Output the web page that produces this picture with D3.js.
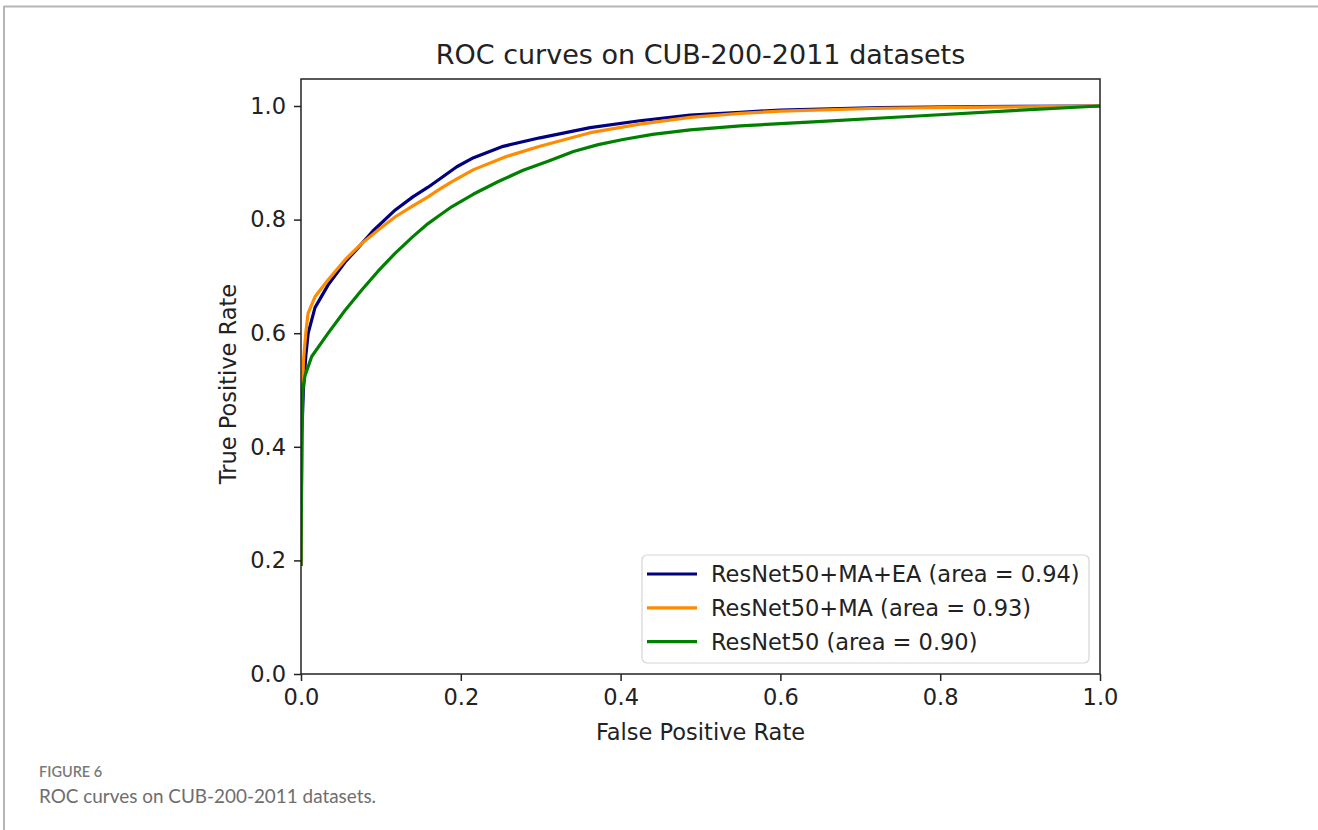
<!DOCTYPE html>
<html lang="en">
<head>
    <meta charset="UTF-8">
    <title>ROC curves</title>
    <script src="https://d3js.org/d3.v7.min.js"></script>
    <style>
        body { margin: 0; background: #fff; }
        svg text { font-family: "DejaVu Sans", sans-serif; fill: #222; }
    </style>
</head>
<body>
<script>
    // ROC points
    var fprMaEa = [0, 0.001, 0.003, 0.006, 0.009, 0.0175, 0.034, 0.055, 0.068, 0.09, 0.118, 0.14, 0.159, 0.174, 0.195, 0.216, 0.253, 0.299, 0.362, 0.424, 0.487, 0.55, 0.6, 0.725, 0.85, 1.0];
    var tprMaEa = [0.19, 0.42, 0.5, 0.56, 0.6, 0.645, 0.685, 0.725, 0.745, 0.78, 0.817, 0.84, 0.857, 0.872, 0.893, 0.909, 0.929, 0.944, 0.962, 0.974, 0.984, 0.989, 0.993, 0.997, 0.999, 1.0];

    var fprMa = [0, 0.001, 0.003, 0.006, 0.0088, 0.0175, 0.034, 0.055, 0.076, 0.097, 0.118, 0.14, 0.159, 0.174, 0.189, 0.216, 0.257, 0.299, 0.362, 0.424, 0.487, 0.55, 0.6, 0.725, 0.85, 1.0];
    var tprMa = [0.19, 0.45, 0.55, 0.6, 0.635, 0.664, 0.694, 0.729, 0.758, 0.782, 0.805, 0.824, 0.84, 0.854, 0.867, 0.888, 0.911, 0.929, 0.953, 0.968, 0.98, 0.987, 0.991, 0.996, 0.998, 1.0];

    var fprBase = [0, 0.001, 0.002, 0.005, 0.0134, 0.034, 0.055, 0.076, 0.097, 0.118, 0.14, 0.159, 0.174, 0.189, 0.216, 0.247, 0.278, 0.31, 0.341, 0.372, 0.403, 0.44, 0.487, 0.55, 0.641, 0.766, 0.891, 1.0];
    var tprBase = [0.19, 0.4, 0.5, 0.525, 0.559, 0.6, 0.64, 0.676, 0.71, 0.741, 0.77, 0.793, 0.808, 0.823, 0.845, 0.867, 0.887, 0.903, 0.92, 0.932, 0.941, 0.95, 0.958, 0.965, 0.972, 0.982, 0.992, 1.0];

    var seriesNames = ["ResNet50+MA+EA (area = 0.94)", "ResNet50+MA (area = 0.93)", "ResNet50 (area = 0.90)"];
    var seriesColors = ["#000080", "#ff8c00", "#008000"];
    var tickValues = [0, 0.2, 0.4, 0.6, 0.8, 1.0];

    (function(){
        var series = [
            { name: seriesNames[0], color: seriesColors[0], fpr: fprMaEa, tpr: tprMaEa },
            { name: seriesNames[1], color: seriesColors[1], fpr: fprMa, tpr: tprMa },
            { name: seriesNames[2], color: seriesColors[2], fpr: fprBase, tpr: tprBase }
        ];

        var W = 1318, H = 830;
        var pLeft = 301, pRight = 1100, pTop = 79, pBottom = 674;
        var fs = 22.5;

        var svg = d3.select("body").append("svg")
            .attr("width", W)
            .attr("height", H);

        svg.append("rect").attr("width", W).attr("height", H).attr("fill", "#fff");

        // page frame
        svg.append("line").attr("x1", 4).attr("x2", W).attr("y1", 6.5).attr("y2", 6.5)
            .attr("stroke", "#b5b5b5").attr("stroke-width", 2);
        svg.append("line").attr("x1", 4).attr("x2", 4).attr("y1", 6).attr("y2", H)
            .attr("stroke", "#b5b5b5").attr("stroke-width", 2);

        var x = d3.scaleLinear().domain([0, 1]).range([pLeft, pRight]);
        var y = d3.scaleLinear().domain([0, 1]).range([pBottom, 106]);

        var line = d3.line()
            .x(function(d){ return x(d[0]); })
            .y(function(d){ return y(d[1]); });

        var plot = svg.append("g");
        plot.append("clipPath").attr("id", "clip")
            .append("rect").attr("x", pLeft).attr("y", pTop)
            .attr("width", pRight - pLeft).attr("height", pBottom - pTop);

        plot.selectAll("path.roc")
            .data(series)
            .enter()
            .append("path")
            .attr("class", "roc")
            .attr("clip-path", "url(#clip)")
            .attr("fill", "none")
            .attr("stroke", function(d){ return d.color; })
            .attr("stroke-width", 3.2)
            .attr("stroke-linejoin", "round")
            .attr("d", function(d){
                return line(d.fpr.map(function(f, i){ return [f, d.tpr[i]]; }));
            });

        // frame
        plot.append("rect")
            .attr("x", pLeft).attr("y", pTop)
            .attr("width", pRight - pLeft).attr("height", pBottom - pTop)
            .attr("fill", "none").attr("stroke", "#222").attr("stroke-width", 1.5);

        var xAxis = d3.axisBottom(x).tickValues(tickValues).tickSize(7).tickPadding(8)
            .tickFormat(d3.format(".1f"));
        var yAxis = d3.axisLeft(y).tickValues(tickValues).tickSize(7).tickPadding(8)
            .tickFormat(d3.format(".1f"));

        var gx = svg.append("g").attr("transform", "translate(0," + pBottom + ")").call(xAxis);
        var gy = svg.append("g").attr("transform", "translate(" + pLeft + ",0)").call(yAxis);
        [gx, gy].forEach(function(g){
            g.select(".domain").remove();
            g.selectAll(".tick line").attr("stroke", "#222").attr("stroke-width", 1.5);
            g.selectAll(".tick text").attr("font-size", fs).attr("fill", "#222")
                .style("font-family", "'DejaVu Sans', sans-serif");
        });

        svg.append("text")
            .attr("x", (pLeft + pRight) / 2).attr("y", 64)
            .attr("text-anchor", "middle").attr("font-size", 27)
            .text("ROC curves on CUB-200-2011 datasets");

        svg.append("text")
            .attr("x", (pLeft + pRight) / 2).attr("y", 740)
            .attr("text-anchor", "middle").attr("font-size", fs)
            .text("False Positive Rate");

        svg.append("text")
            .attr("transform", "translate(236,384) rotate(-90)")
            .attr("text-anchor", "middle").attr("font-size", fs)
            .text("True Positive Rate");

        // legend
        var lg = svg.append("g");
        lg.append("rect")
            .attr("x", 642).attr("y", 555).attr("width", 447).attr("height", 108)
            .attr("rx", 5).attr("fill", "#fff").attr("fill-opacity", 0.8)
            .attr("stroke", "#d6d6d6").attr("stroke-width", 1.2);

        var items = lg.selectAll("g.item")
            .data(series)
            .enter()
            .append("g")
            .attr("class", "item")
            .attr("transform", function(d, i){ return "translate(0," + (574 + i * 33.8) + ")"; });
        items.append("line")
            .attr("x1", 647).attr("x2", 697)
            .attr("stroke", function(d){ return d.color; })
            .attr("stroke-width", 3.2);
        items.append("text")
            .attr("x", 711).attr("y", 8)
            .attr("font-size", fs)
            .text(function(d){ return d.name; });

        // caption
        svg.append("text")
            .attr("x", 39).attr("y", 777)
            .attr("font-size", 14.5).attr("font-weight", 600)
            .style("font-family", "Lato, 'Open Sans', sans-serif").style("fill", "#7a7a7a")
            .text("FIGURE 6");
        svg.append("text")
            .attr("x", 39).attr("y", 803)
            .attr("font-size", 18.9)
            .style("font-family", "Lato, 'Open Sans', sans-serif").style("fill", "#6e6e6e")
            .text("ROC curves on CUB-200-2011 datasets.");
    })();
</script>
</body>
</html>
